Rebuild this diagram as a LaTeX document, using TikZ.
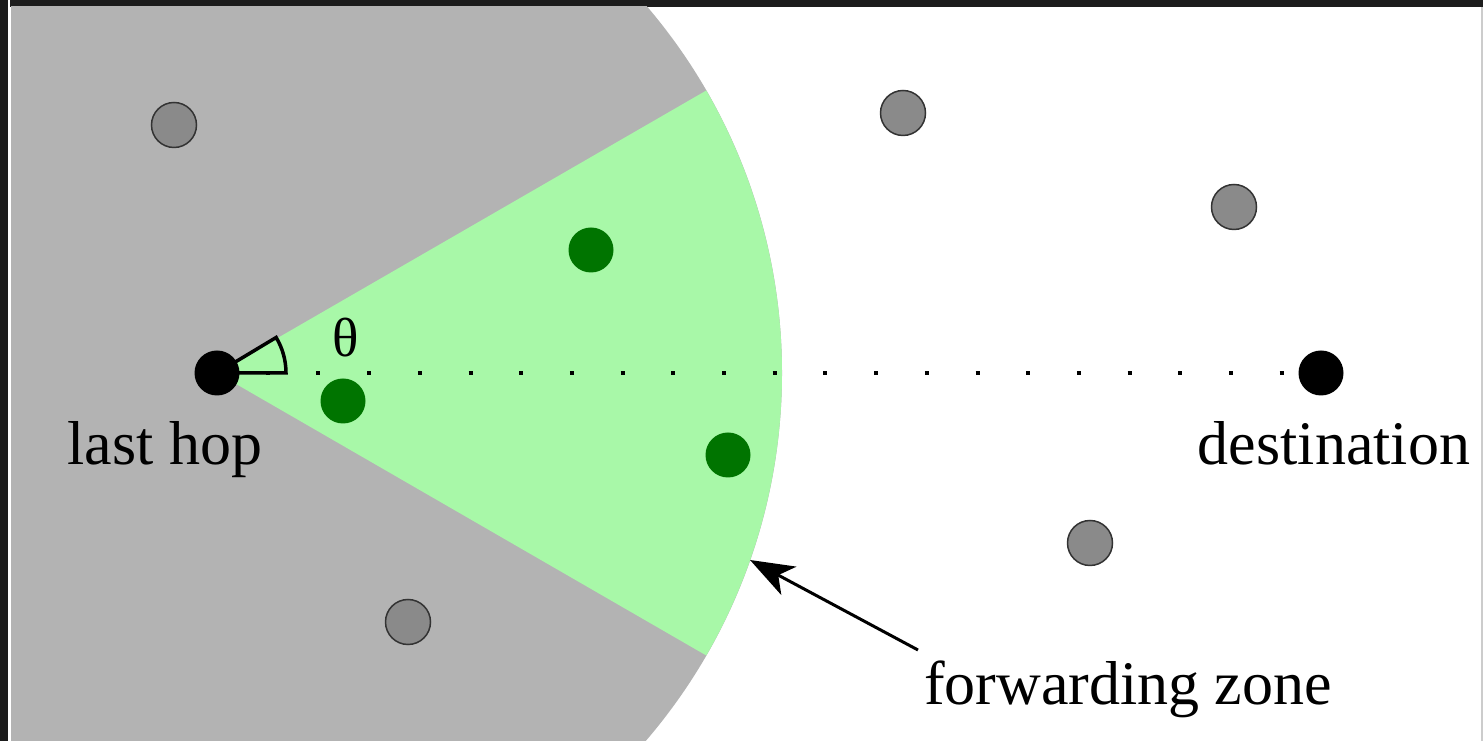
\documentclass[tikz,border=0pt]{standalone}
\usepackage{fontspec}
\setmainfont{Liberation Serif}
\usetikzlibrary{arrows.meta}
\definecolor{zonegray}{HTML}{B3B3B3}
\definecolor{zonegreen}{HTML}{A8F8A8}
\definecolor{nodegray}{HTML}{8A8A8A}
\definecolor{nodegreen}{HTML}{007400}
\definecolor{framedark}{HTML}{1C1C1C}
\tikzset{
  othernode/.style={circle, draw=black!80, line width=1.5pt, fill=nodegray, minimum size=45pt, inner sep=0pt},
  candnode/.style={circle, fill=nodegreen, minimum size=45pt, inner sep=0pt},
  endnode/.style={circle, fill=black, minimum size=45pt, inner sep=0pt},
  lbl/.style={font=\fontsize{62}{70}\selectfont, inner sep=0pt},
}
\begin{document}
\begin{tikzpicture}[x=1pt,y=1pt]
\useasboundingbox (0,0) rectangle (1483,741);
\fill[framedark] (0,0) rectangle (1483,741);
\fill[white] (10,0) rectangle (1481,734);
\fill[white] (8,0) rectangle (9.5,741);
\fill[black!20] (1481,0) rectangle (1483,734);
\begin{scope}
\clip (11,0) rectangle (1481,734);
\fill[zonegray] (217,368) circle[radius=565];
\fill[zonegreen] (217,368) -- +(30:565) arc[start angle=30, end angle=-30, radius=565] -- cycle;
\end{scope}
% nodes
\node[endnode] (lasthop) at (217,368) {};
\node[endnode] (dest) at (1321,368) {};
\node[othernode] (g1) at (174,616) {};
\node[othernode] (g2) at (903,628) {};
\node[othernode] (g3) at (1234,534) {};
\node[othernode] (g4) at (1090,198) {};
\node[othernode] (g5) at (408,119) {};
\node[candnode] (c1) at (591,491) {};
\node[candnode] (c2) at (343,340) {};
\node[candnode] (c3) at (728,286) {};
% angle mark
\draw[line width=3.5pt, line join=miter] (lasthop.center) -- ++(69,0) arc[start angle=0, end angle=31, radius=69] -- cycle;
% dotted line
\draw[line width=4pt, dash pattern=on 4pt off 46.7pt, dash phase=2pt] (lasthop.center) -- (dest.center);
% labels
\node[lbl, font=\fontsize{55}{60}\selectfont] (theta) at (346,403) {θ};
\node[lbl, anchor=base] (lhlabel) at (165,276) {last hop};
\node[lbl, anchor=base] (destlabel) at (1334,276) {destination};
\node[lbl, anchor=base] (fzlabel) at (1128,36) {forwarding zone};
\coordinate (arrtail) at (918,91);
\coordinate (arrtip) at (750,181);
\draw[line width=3pt, -{Stealth[length=44pt, width=32pt, inset=12pt]}] (arrtail) -- (arrtip);
\end{tikzpicture}
\end{document}
